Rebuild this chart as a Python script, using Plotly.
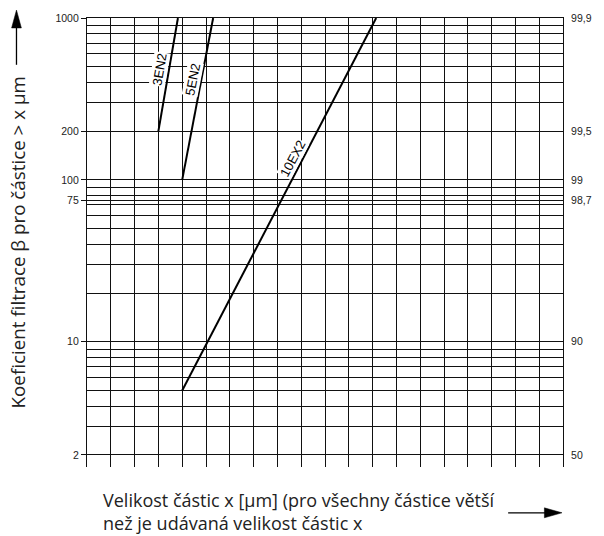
import math
import plotly.graph_objects as go

# ---------------- data ----------------
x_3EN2 = [3.0, 3.82]
beta_3EN2 = [200, 1000]
x_5EN2 = [4.0, 5.30]
beta_5EN2 = [100, 1000]
x_10EX2 = [4.0, 12.15]
beta_10EX2 = [5, 1000]

line_names = ["3EN2", "5EN2", "10EX2"]
label_x = [3.04, 4.43, 8.64]          # label centres (grid units)
label_beta = [482, 419, 136]
label_angle = [-80, -79, -62]

left_tickvals = [1000, 200, 100, 75, 10, 2]
left_ticktext = ["1000", "200", "100", "75", "10", "2"]
right_ticktext = ["99,9", "99,5", "99", "98,7", "90", "50"]
grid_vals = [2, 3, 4, 5, 6, 7, 8, 9, 10, 20, 30, 40, 50, 60, 70, 75, 80, 90, 100,
             200, 300, 400, 500, 600, 700, 800, 900, 1000]
x_grid_max = 20

y_title = "Koeficient filtrace β pro částice > x µm"
x_title = ("Velikost částic x [µm] (pro všechny částice větší<br>"
           "než je udávaná velikost částic x")

# ---------------- layout geometry ----------------
W, H = 604, 536
ML, MR, MT, MB = 87, 31, 16, 69
PW, PH = W - ML - MR, H - MT - MB


def px(xp):
    return (xp - ML) / PW


def py(yp):
    return (H - MB - yp) / PH


grid_text = [left_ticktext[left_tickvals.index(v)] if v in left_tickvals else ""
             for v in grid_vals]

fig = go.Figure()
for xs, ys in [(x_3EN2, beta_3EN2), (x_5EN2, beta_5EN2), (x_10EX2, beta_10EX2)]:
    fig.add_trace(go.Scatter(x=xs, y=ys, mode="lines",
                             line=dict(color="black", width=2),
                             showlegend=False, hoverinfo="skip"))

# invisible traces to activate the extra axes
for ax in ["y2", "y3"]:
    fig.add_trace(go.Scatter(x=[0] * len(left_tickvals), y=left_tickvals, yaxis=ax,
                             mode="markers", marker=dict(opacity=0),
                             showlegend=False, hoverinfo="skip"))

tickfont = dict(family="Liberation Sans, Arial, sans-serif", size=10.5, color="#222")
gridc = "#111"
gridw = 1.2
yrange = [0.226, 3]

fig.update_layout(
    width=W, height=H,
    margin=dict(l=ML, r=MR, t=MT, b=MB),
    paper_bgcolor="white", plot_bgcolor="white",
    xaxis=dict(range=[0, x_grid_max], tickmode="linear", tick0=0, dtick=1,
               showticklabels=False, ticks="", showgrid=True,
               gridcolor=gridc, gridwidth=gridw, zeroline=False,
               side="top", showline=True, linecolor=gridc, linewidth=gridw),
    yaxis=dict(type="log", range=yrange,
               tickmode="array", tickvals=grid_vals, ticktext=grid_text,
               ticks="outside", ticklen=5, tickcolor="rgba(0,0,0,0)",
               tickfont=tickfont, showgrid=True, gridcolor=gridc, gridwidth=gridw,
               showline=True, mirror=True, linecolor=gridc, linewidth=gridw,
               zeroline=False),
    yaxis2=dict(type="log", range=yrange, overlaying="y", side="right",
                tickmode="array", tickvals=left_tickvals, ticktext=right_ticktext,
                ticks="outside", ticklen=5, tickcolor="rgba(0,0,0,0)",
                tickfont=tickfont, showgrid=False, zeroline=False, showline=False),
    yaxis3=dict(type="log", range=yrange, overlaying="y", side="left",
                tickmode="array", tickvals=left_tickvals,
                ticks="outside", ticklen=5, tickcolor=gridc, tickwidth=gridw,
                showticklabels=False, showgrid=False, zeroline=False, showline=False),
)

for name, lx, lb, ang in zip(line_names, label_x, label_beta, label_angle):
    fig.add_annotation(x=lx, y=math.log10(lb), xref="x", yref="y", text=name,
                       showarrow=False, textangle=ang, bgcolor="white",
                       borderpad=0,
                       font=dict(family="Liberation Sans, Arial, sans-serif",
                                 size=13, color="black"))

fig.add_annotation(x=px(17), y=py(241), xref="paper", yref="paper", text=y_title,
                   showarrow=False, textangle=-90,
                   font=dict(family="Open Sans, sans-serif", size=18.8, color="#222"),
                   xanchor="center", yanchor="middle")
fig.add_annotation(x=px(101), y=py(512), xref="paper", yref="paper", text=x_title,
                   showarrow=False, align="left", xanchor="left", yanchor="middle",
                   font=dict(family="Open Sans, sans-serif", size=18, color="#222"))

# arrows (drawn as shapes in paper coordinates)
fig.add_shape(type="line", xref="paper", yref="paper",
              x0=px(15), x1=px(15), y0=py(63), y1=py(24),
              line=dict(color="black", width=1.3))
fig.add_shape(type="path", xref="paper", yref="paper",
              path=f"M {px(10)} {py(26)} L {px(20)} {py(26)} L {px(15)} {py(8)} Z",
              fillcolor="black", line=dict(color="black", width=0.5))
fig.add_shape(type="line", xref="paper", yref="paper",
              x0=px(517), x1=px(555), y0=py(513), y1=py(513),
              line=dict(color="black", width=1.3))
fig.add_shape(type="path", xref="paper", yref="paper",
              path=f"M {px(554)} {py(508)} L {px(554)} {py(518)} L {px(572)} {py(513)} Z",
              fillcolor="black", line=dict(color="black", width=0.5))

fig.write_html("out.html", config={"displayModeBar": False},
               post_script="document.body.style.margin='0';document.body.style.padding='0';")
